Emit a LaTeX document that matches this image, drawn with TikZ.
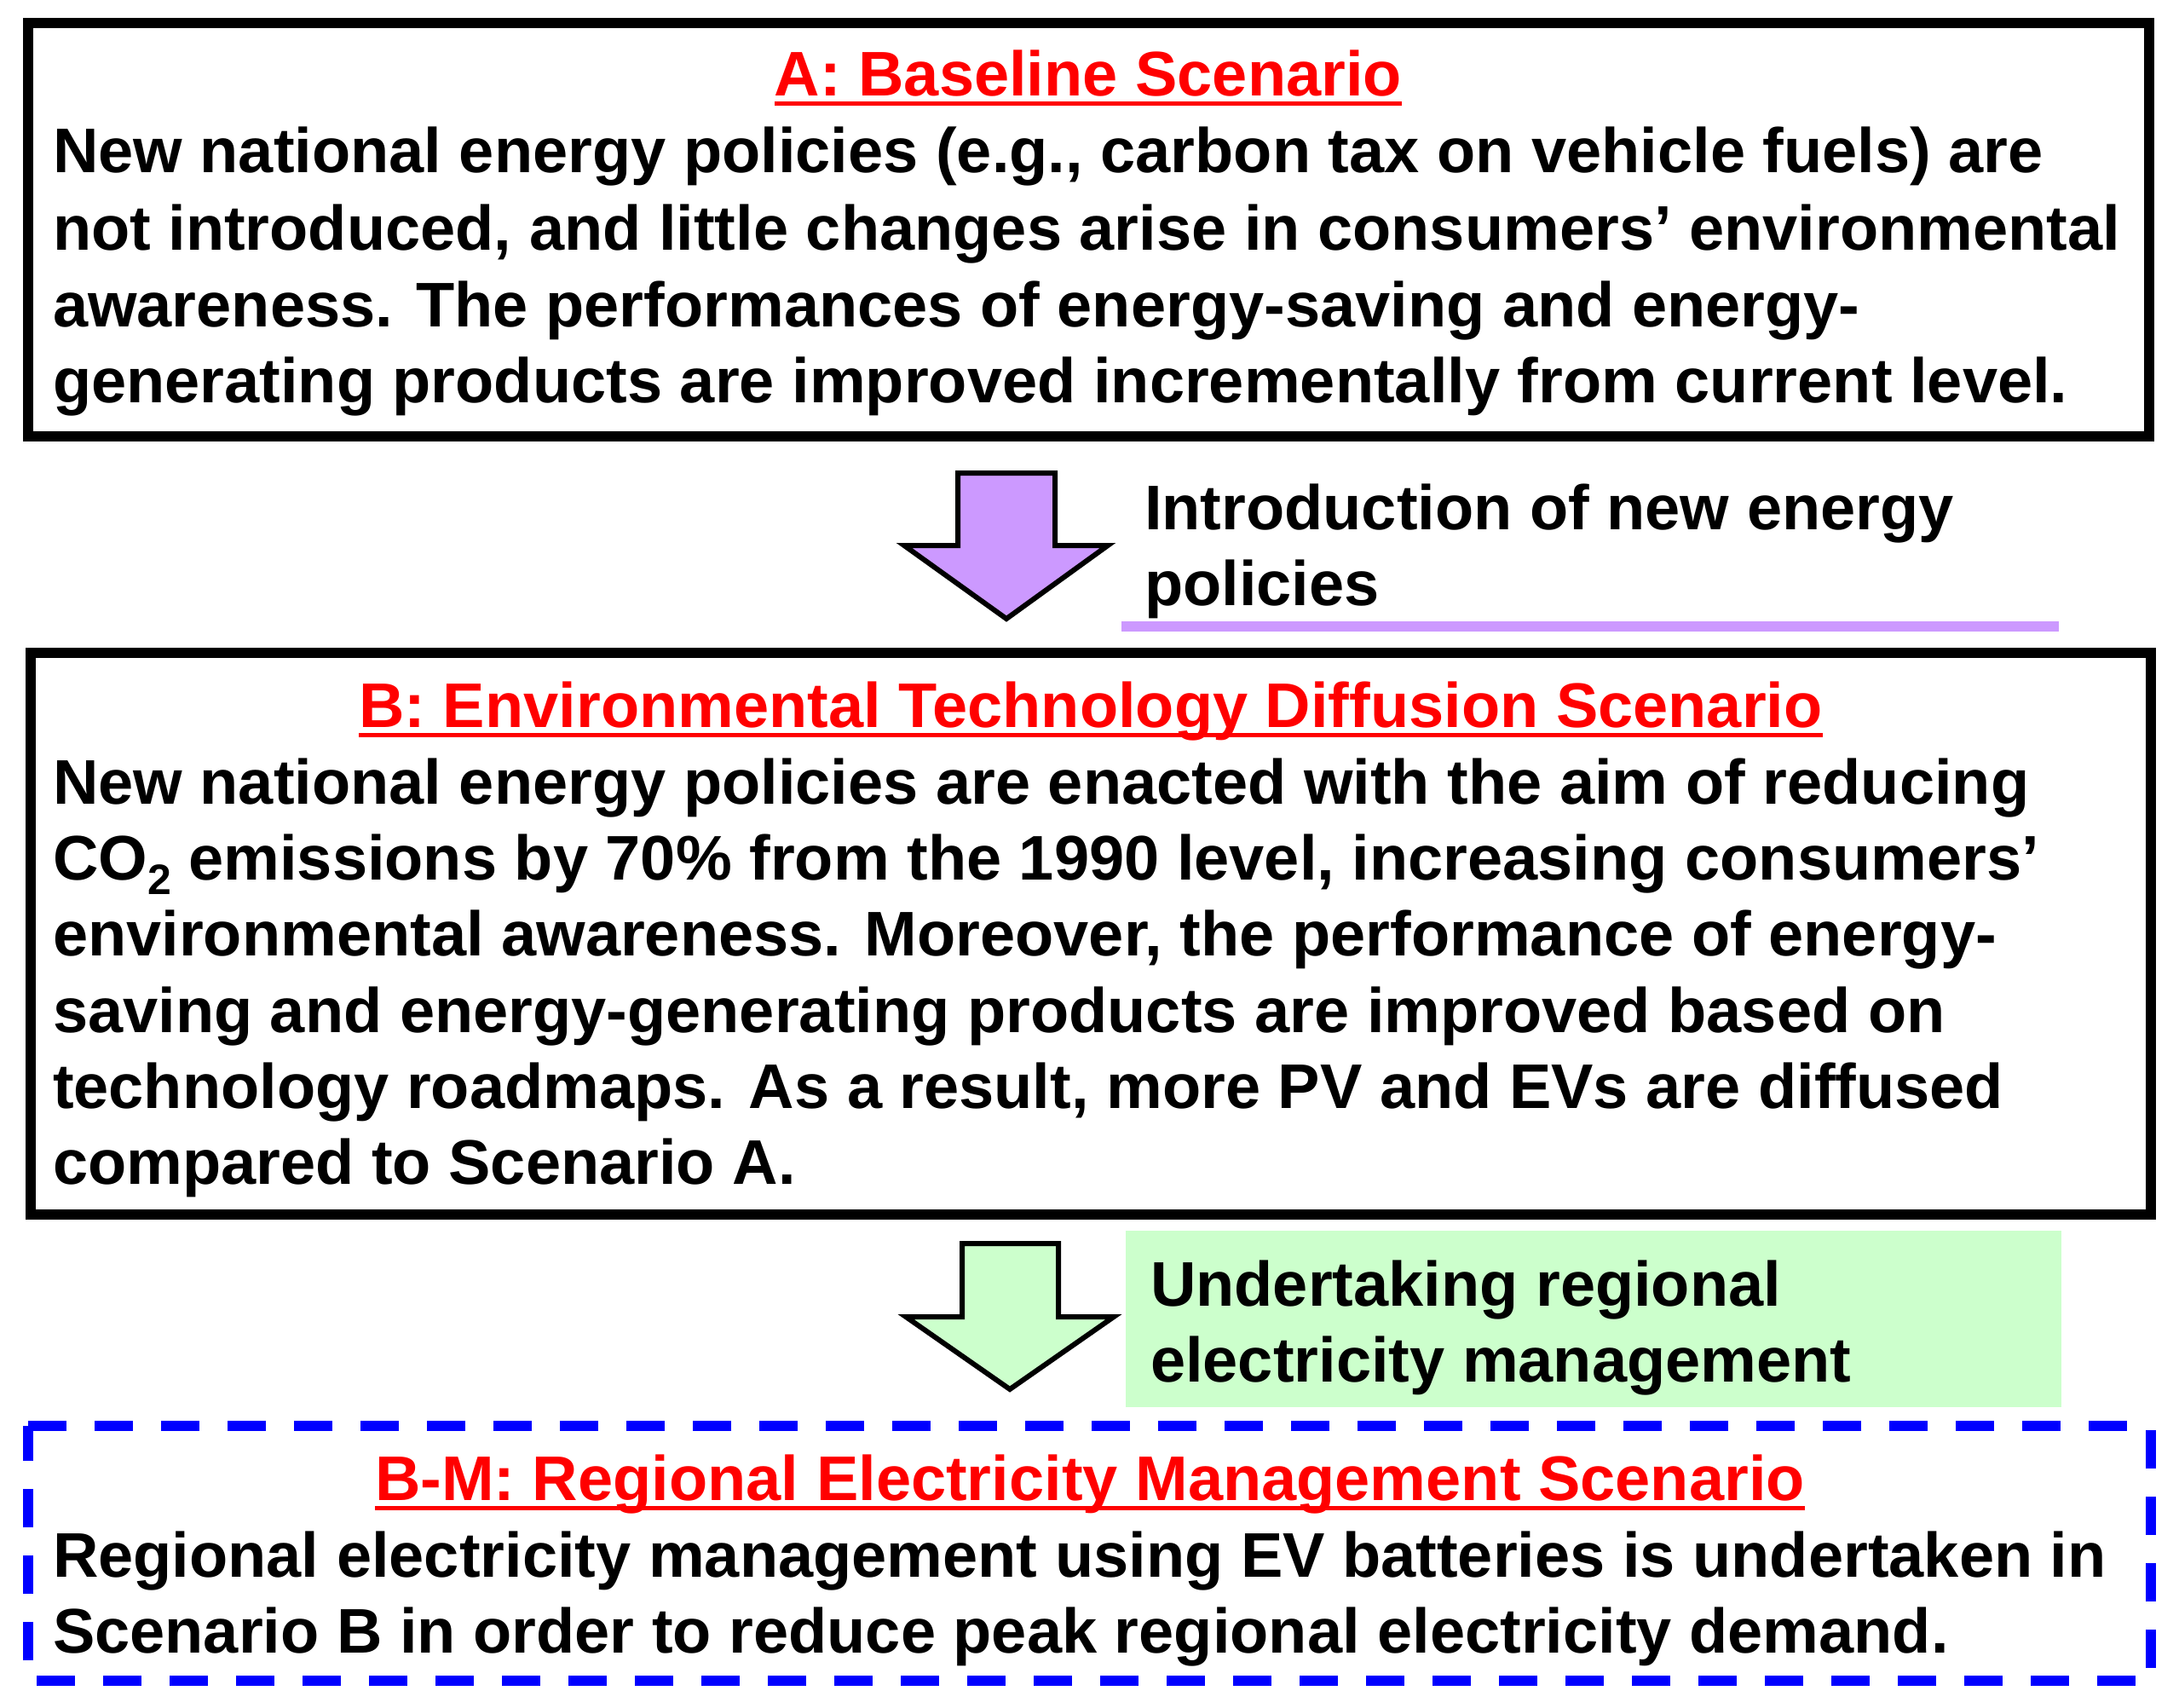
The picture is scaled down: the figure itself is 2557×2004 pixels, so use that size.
\documentclass[tikz,border=0pt]{standalone}
\usepackage{fontspec}
\setmainfont{Liberation Sans}
\newcommand\myfont{\fontsize{74pt}{89pt}\selectfont\bfseries}
\newcommand\subtwo{\raisebox{-17pt}{\fontsize{50pt}{50pt}\selectfont 2}}
\definecolor{titlered}{HTML}{FF0000}
\definecolor{lavender}{HTML}{CC99FF}
\definecolor{mint}{HTML}{CCFFCC}
\definecolor{bmblue}{HTML}{0000FF}
\tikzset{
  boxstyle/.style={draw=black, line width=12pt, inner sep=0pt, outer sep=0pt},
  greenbox/.style={fill=mint, draw=none, inner sep=0pt, outer sep=0pt},
  txt/.style={anchor=base west, inner sep=0pt, outer sep=0pt, font=\myfont, text=black},
  ttl/.style={anchor=base, inner sep=0pt, outer sep=0pt, font=\myfont, text=titlered},
  ul/.style={draw=titlered, line width=5pt},
  blockarrow/.style={draw=black, line width=6pt, miter limit=10},
  bmdash/.style={draw=bmblue, line width=12pt, dash pattern=on 45pt off 33pt},
}
\begin{document}
\begin{tikzpicture}[x=1pt, y=-1pt]
\useasboundingbox (0,0) rectangle (2557,2004);

% ---------- Box A ----------
\node[boxstyle, minimum width=2488.5pt, minimum height=484.5pt] (boxA) at (1277.25,269.25) {};
\node[ttl] (titleA) at (1277,113) {A: Baseline Scenario};
\draw[ul] ([yshift=-9pt]titleA.base west) -- ([yshift=-9pt]titleA.base east);
\node[txt] (a1) at (62,203) {New national energy policies (e.g., carbon tax on vehicle fuels) are};
\node[txt] (a2) at (62,293) {not introduced, and little changes arise in consumers’ environmental};
\node[txt] (a3) at (62,383) {awareness. The performances of energy-saving and energy-};
\node[txt] (a4) at (62,472) {generating products are improved incrementally from current level.};

% ---------- Arrow 1 ----------
\draw[blockarrow, fill=lavender] (1124,555) -- (1238,555) -- (1238,640) -- (1300,640)
  -- (1181,726) -- (1061,640) -- (1124,640) -- cycle;
\node[txt] (i1) at (1343,621) {Introduction of new energy};
\node[txt] (i2) at (1343,710) {policies};
\coordinate (purpleL) at (1316,735);
\coordinate (purpleR) at (2416,735);
\draw[draw=lavender, line width=12pt] (purpleL) -- (purpleR);

% ---------- Box B ----------
\node[boxstyle, minimum width=2488pt, minimum height=659pt] (boxB) at (1280,1095.5) {};
\node[ttl] (titleB) at (1280,853) {B: Environmental Technology Diffusion Scenario};
\draw[ul] ([yshift=-9pt]titleB.base west) -- ([yshift=-9pt]titleB.base east);
\node[txt] (b1) at (62,943) {New national energy policies are enacted with the aim of reducing};
\node[txt] (b2) at (62,1032) {CO\subtwo{} emissions by 70\% from the 1990 level, increasing consumers’};
\node[txt] (b3) at (62,1121) {environmental awareness. Moreover, the performance of energy-};
\node[txt] (b4) at (62,1211) {saving and energy-generating products are improved based on};
\node[txt] (b5) at (62,1300) {technology roadmaps. As a result, more PV and EVs are diffused};
\node[txt] (b6) at (62,1389) {compared to Scenario A.};

% ---------- Arrow 2 ----------
\node[greenbox, minimum width=1098pt, minimum height=207pt] (gbox) at (1870,1547.5) {};
\draw[blockarrow, fill=mint] (1129,1459) -- (1242,1459) -- (1242,1545) -- (1307,1545)
  -- (1185,1630) -- (1063,1545) -- (1129,1545) -- cycle;
\node[txt] (u1) at (1350,1532) {Undertaking regional};
\node[txt] (u2) at (1350,1621) {electricity management};

% ---------- Box B-M ----------
\node[inner sep=0pt, outer sep=0pt, minimum width=2491pt, minimum height=298.5pt] (boxBM) at (1278.5,1822.25) {};
\draw[bmdash] (boxBM.north west) -- (boxBM.north east) -- (boxBM.south east)
  -- (boxBM.south west) -- cycle;
\node[ttl] (titleBM) at (1279,1760) {B-M: Regional Electricity Management Scenario};
\draw[ul] ([yshift=-9pt]titleBM.base west) -- ([yshift=-9pt]titleBM.base east);
\node[txt] (m1) at (62,1850) {Regional electricity management using EV batteries is undertaken in};
\node[txt] (m2) at (62,1939) {Scenario B in order to reduce peak regional electricity demand.};
\end{tikzpicture}
\end{document}
